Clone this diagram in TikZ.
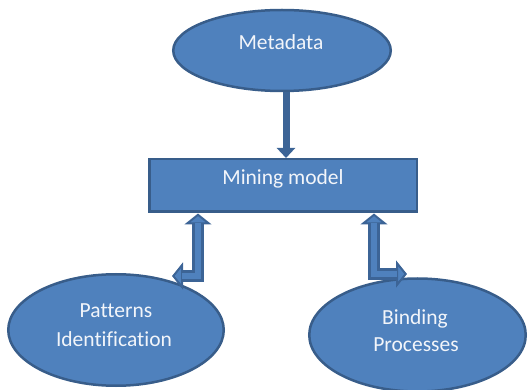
\documentclass[tikz,border=0pt]{standalone}
\usepackage{fontspec}
\setmainfont{Carlito}[Ligatures=NoCommon]
\usetikzlibrary{shapes.geometric,arrows.meta,calc}
\definecolor{fillblue}{HTML}{4F81BD}
\definecolor{edgeblue}{HTML}{385D8A}
\definecolor{arrowblue}{HTML}{3C6496}
\definecolor{textwhite}{HTML}{F2F5FA}
\begin{document}
\begin{tikzpicture}[x=1pt,y=-1pt,
  shapebox/.style={fill=fillblue, draw=edgeblue, line width=2.5pt, inner sep=0pt},
  oval/.style={shapebox, ellipse},
  lbl/.style={text=textwhite, font=\fontsize{21.5}{24}\selectfont, anchor=base, inner sep=0pt},
  onearrow/.style={draw=arrowblue, line width=7pt, -{Triangle[width=18pt,length=10pt]}},
  dblout/.style={draw=arrowblue, line width=12pt,
     {Triangle[width=27pt,length=11pt,line width=2pt,fill=fillblue]}-{Triangle[width=27pt,length=11pt,line width=2pt,fill=fillblue]}},
  dblin/.style={draw=fillblue, line width=6pt, shorten <=10pt, shorten >=10pt}
]
\useasboundingbox (0,0) rectangle (528,390);

% shapes
\node[oval, minimum width=217.5pt, minimum height=81pt] (meta) at (282,50.5) {};
\node[shapebox, rectangle, minimum width=267.5pt, minimum height=52.5pt] (mm) at (283,185.5) {};
\node[oval, minimum width=215.5pt, minimum height=111.5pt] (pi) at (116,330) {};
\node[oval, minimum width=216.5pt, minimum height=113pt] (bp) at (417.5,335) {};

% texts
\node[lbl] (metat) at (281,50) {Metadata};
\node[lbl] (mmt) at (283,185) {Mining model};
\node[lbl] (pit1) at (116,318) {Patterns};
\node[lbl] (pit2) at (114,347) {Identification};
\node[lbl] (bpt1) at (415,325) {Binding};
\node[lbl] (bpt2) at (416,352) {Processes};

% helper coordinates
\coordinate (ax) at ([xshift=4pt]meta.south);
\coordinate (lx) at (198,213.5);
\coordinate (lend) at (172,276);
\coordinate (rx) at (374,213.5);
\coordinate (rend) at (407,274);

% connectors
\draw[onearrow] (ax) -- (ax |- mm.north);
\draw[dblout] (lx) |- (lend);
\draw[dblin] (lx) |- (lend);
\draw[dblout] (rx) |- (rend);
\draw[dblin] (rx) |- (rend);
\end{tikzpicture}
\end{document}
